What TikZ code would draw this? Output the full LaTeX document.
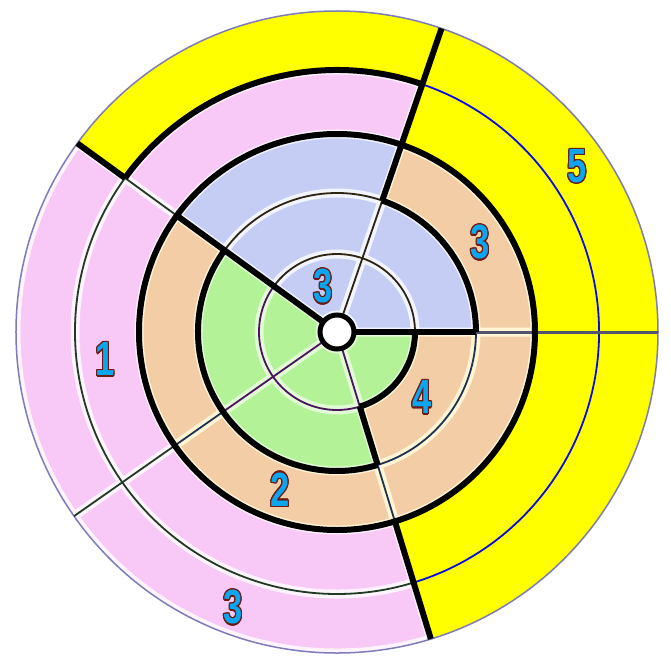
\documentclass[tikz,border=0pt]{standalone}
\usepackage{fontspec}
\newfontfamily\rotfont{Liberation Sans}
\usepackage[copies]{contour}
\contourlength{1.3pt}

\definecolor{alvoazul}{HTML}{C5CDF5}
\definecolor{alvoverde}{HTML}{B3F296}
\definecolor{alvopessego}{HTML}{F3CDA6}
\definecolor{alvorosa}{HTML}{F8C8F6}
\definecolor{alvoamarelo}{HTML}{FFFF00}
\definecolor{haloazul}{HTML}{F2F4FF}
\definecolor{haloverde}{HTML}{E2FAD6}
\definecolor{halopessego}{HTML}{FFF5D6}
\definecolor{halorosa}{HTML}{FFF4FE}
\definecolor{fiomarrom}{HTML}{2E2410}
\definecolor{fioroxo}{HTML}{4A145E}
\definecolor{fioazul}{HTML}{1D3450}
\definecolor{fioverde}{HTML}{1F3B22}
\definecolor{fioanil}{HTML}{0A0AE6}
\definecolor{fiocinza}{HTML}{54546E}
\definecolor{borda}{HTML}{7C7CB8}
\definecolor{rotazul}{HTML}{0AA6F0}
\definecolor{rotcontorno}{HTML}{6E1A12}

\newcommand{\setor}[4]{(#1:#3) arc[start angle=#1,end angle=#2,radius=#3] -- (#2:#4) arc[start angle=#2,end angle=#1,radius=#4] -- cycle}

\tikzset{
  grosso/.style={draw=black,line width=6pt},
  fino/.style={line width=1.8pt},
  furo/.style={circle,draw=black,fill=white,line width=5pt,minimum size=34pt,inner sep=0pt},
  rot/.style={font=\rotfont\bfseries\fontsize{48}{48}\selectfont,text=rotazul,xscale=0.72,inner sep=0pt},
}

\begin{document}
\begin{tikzpicture}[x=1pt,y=1pt]
  \useasboundingbox (-337,-327) rectangle (334,332);
  % setores com halo claro por dentro
  \foreach \a/\b/\ri/\ro/\c/\h in {0/71/17/78/alvoazul/haloazul, 71/144/17/78/alvoazul/haloazul,
      0/71/78/139/alvoazul/haloazul, 71/144/78/139/alvoazul/haloazul, 71/144/139/198/alvoazul/haloazul,
      144/215/17/78/alvoverde/haloverde, 215/287/17/78/alvoverde/haloverde, 287/360/17/78/alvoverde/haloverde,
      144/215/78/139/alvoverde/haloverde, 215/287/78/139/alvoverde/haloverde,
      287/360/78/139/alvopessego/halopessego, 287/360/139/198/alvopessego/halopessego,
      0/71/139/198/alvopessego/halopessego, 144/215/139/198/alvopessego/halopessego,
      215/287/139/198/alvopessego/halopessego,
      71/144/198/262/alvorosa/halorosa, 144/215/198/262/alvorosa/halorosa, 215/287/198/262/alvorosa/halorosa,
      144/215/262/321/alvorosa/halorosa, 215/287/262/321/alvorosa/halorosa,
      287/360/198/321/alvoamarelo/alvoamarelo, 0/71/198/321/alvoamarelo/alvoamarelo,
      71/144/262/321/alvoamarelo/alvoamarelo} {
    \begin{scope}
      \clip \setor{\a}{\b}{\ri}{\ro};
      \fill[\c] \setor{\a}{\b}{\ri}{\ro};
      \draw[\h,line width=9pt] \setor{\a}{\b}{\ri}{\ro};
    \end{scope}}
  \draw[borda,line width=1.5pt] (0,0) circle[radius=321];
  \foreach \a/\b/\r/\c in {0/144/78/fiomarrom, 144/287/78/fioroxo, 71/144/139/fiomarrom,
      287/360/139/fioazul, 144/287/262/fioverde, -73/71/262/fioanil}
    \draw[fino,\c] (\a:\r) arc[start angle=\a,end angle=\b,radius=\r];
  \foreach \ang/\ri/\ro/\c in {71/17/139/fiomarrom, 144/198/262/fioverde, 215/17/139/fioroxo,
      215/139/198/fioazul, 215/198/321/fioverde, 287/17/78/fioroxo, 287/139/198/fioazul}
    \draw[fino,\c] (\ang:\ri) -- (\ang:\ro);
  \draw[fiocinza,line width=3pt] (0:139) -- (0:321);                       % raio claro
  \draw[grosso] (0,0) circle[radius=198];
  \foreach \a/\b/\r in {-73/0/78, 0/71/139, 144/287/139, 71/144/262}
    \draw[grosso] (\a:\r) arc[start angle=\a,end angle=\b,radius=\r];
  \foreach \ang/\ri/\ro in {0/17/139, 71/139/321, 144/17/198, 144/262/321, 287/78/139, 287/198/321}
    \draw[grosso] (\ang:\ri) -- (\ang:\ro);
  \node[furo] (furo) at (0,0) {};
  \node[rot] (rotcentro) at (-14,45) {\contour{rotcontorno}{3}};
  \node[rot] (rotdireita) at (143,89) {\contour{rotcontorno}{3}};
  \node[rot] (rotcinco) at (240,165) {\contour{rotcontorno}{5}};
  \node[rot] (rotum) at (-232,-28) {\contour{rotcontorno}{1}};
  \node[rot] (rotdois) at (-57,-158) {\contour{rotcontorno}{2}};
  \node[rot] (rotbaixo) at (-104,-276) {\contour{rotcontorno}{3}};
  \node[rot] (rotquatro) at (85,-66) {\contour{rotcontorno}{4}};
\end{tikzpicture}
\end{document}
